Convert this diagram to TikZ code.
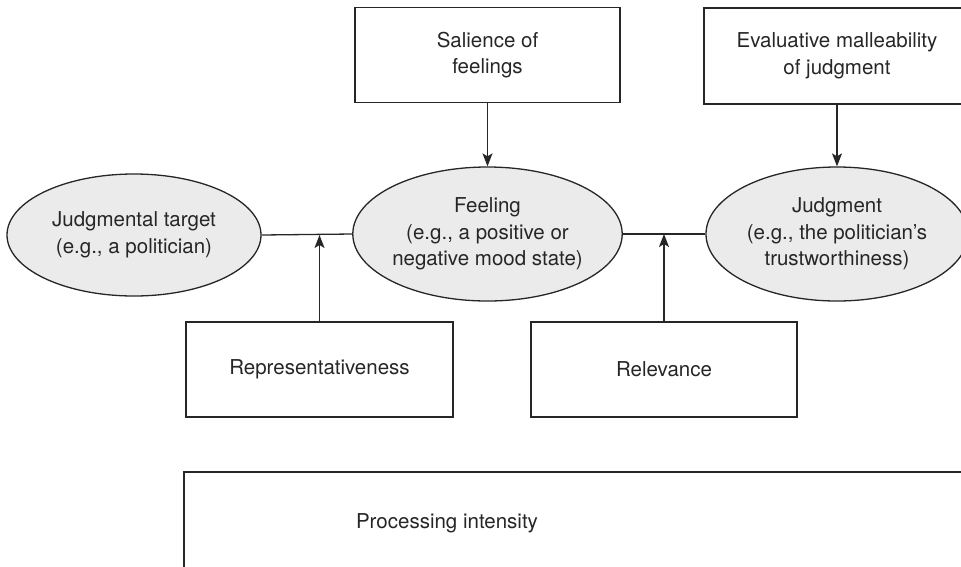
\documentclass[tikz,border=0pt]{standalone}
\usepackage{fontspec}
\setmainfont{TeX Gyre Heros}
\usetikzlibrary{shapes.geometric,arrows.meta}
\definecolor{inkgray}{HTML}{262626}
\definecolor{ovalfill}{HTML}{EBEBEB}
\begin{document}
\begin{tikzpicture}[x=1pt,y=-1pt,
  every node/.style={font=\fontsize{20.5}{26.5}\selectfont, text=inkgray, align=center, inner sep=0pt},
  framebox/.style={draw=inkgray, line width=1.3pt, rectangle},
  oval/.style={draw=inkgray, line width=1.3pt, ellipse, fill=ovalfill},
  link/.style={draw=inkgray, line width=1.3pt},
  arrowlink/.style={link, -{Stealth[length=13pt,width=10pt,inset=3pt]}}]
  \useasboundingbox (0,0) rectangle (961,566);
  \clip (0,0) rectangle (961,566);

  % central chain: target -- feeling -- judgment
  \node[oval, minimum width=254, minimum height=122] (target) at (134,235)
    {Judgmental target\\(e.g., a politician)};
  \node[oval, minimum width=261, minimum height=134] (feeling) at (487.5,234)
    {Feeling\\(e.g., a positive or\\negative mood state)};
  \node[oval, minimum width=262, minimum height=134] (judgment) at (837,234)
    {Judgment\\(e.g., the politician’s\\trustworthiness)};

  % moderators above
  \node[framebox, minimum width=265, minimum height=95] (salience) at (487.5,55)
    {Salience of\\feelings};
  \node[framebox, minimum width=266, minimum height=96] (malleab) at (837,56)
    {Evaluative malleability\\of judgment};

  % moderators below
  \node[framebox, minimum width=267, minimum height=95] (repres) at (319.5,369.5)
    {Representativeness};
  \node[framebox, minimum width=266, minimum height=95] (relev) at (664,369.5)
    {Relevance};

  % processing intensity frame running off the page
  \coordinate (procTR) at (1000,472);
  \coordinate (procTL) at (184,472);
  \coordinate (procBL) at (184,620);
  \draw[link] (procTR) -- (procTL) -- (procBL);
  \node (proc) at (447,523) {Processing intensity};

  % connectors
  \draw[link] (target.east) -- (feeling.west);
  \draw[link] (feeling.east) -- (judgment.west);
  \draw[arrowlink] (salience.south) -- (feeling.north);
  \draw[arrowlink] (malleab.south) -- (judgment.north);
  \draw[arrowlink] (repres.north) -- (repres.north |- target.east);
  \draw[arrowlink] (relev.north) -- (relev.north |- feeling.east);
\end{tikzpicture}
\end{document}
